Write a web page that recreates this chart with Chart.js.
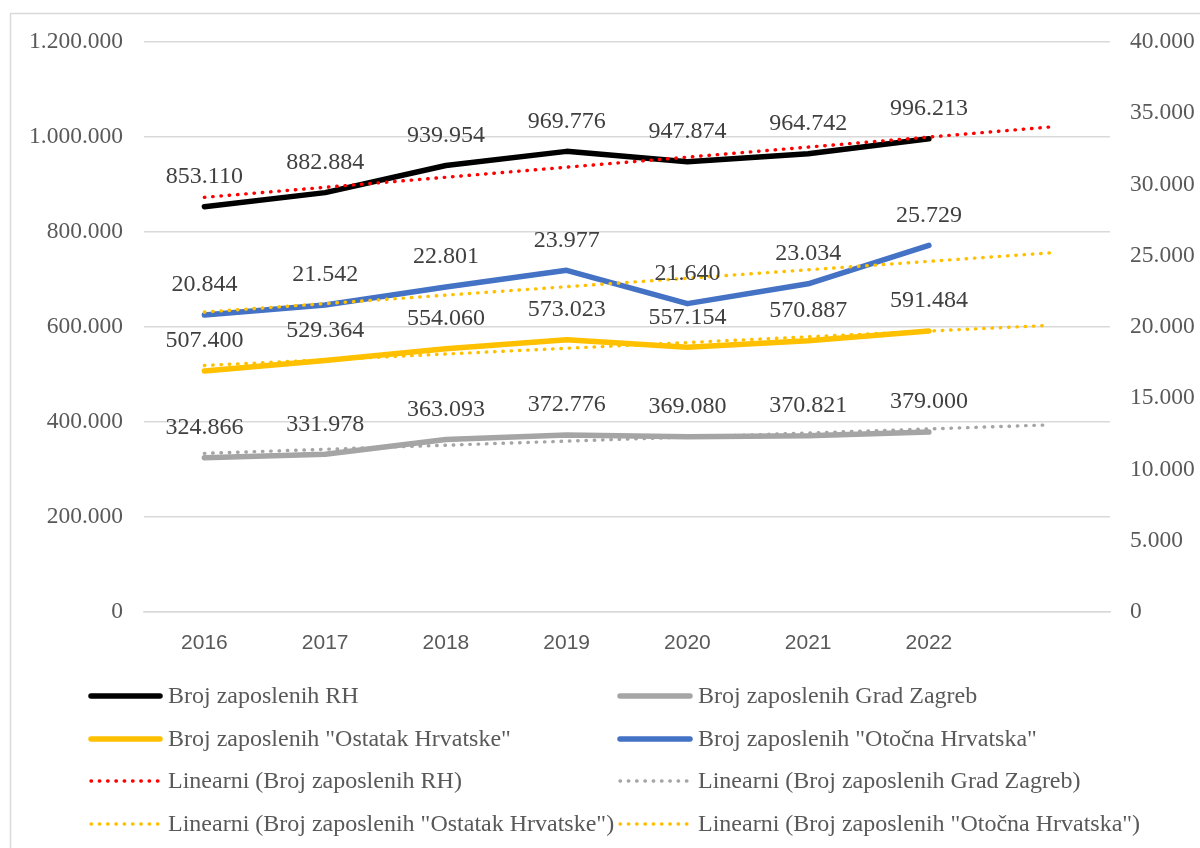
<!DOCTYPE html>
<html>
<head>
<meta charset="utf-8">
<script src="https://cdn.jsdelivr.net/npm/chart.js@4.4.0/dist/chart.umd.min.js"></script>
<style>
    html, body { margin: 0; padding: 0; background: #ffffff; }
    canvas { display: block; }
</style>
</head>
<body>
<canvas id="chart" width="1200" height="848"></canvas>
<script>
// categories (the last one is the empty forecast slot for the trend lines)
const years = ['2016', '2017', '2018', '2019', '2020', '2021', '2022', ''];

const zaposleniRH = [853110, 882884, 939954, 969776, 947874, 964742, 996213];
const zaposleniZagreb = [324866, 331978, 363093, 372776, 369080, 370821, 379000];
const zaposleniOstatak = [507400, 529364, 554060, 573023, 557154, 570887, 591484];
const zaposleniOtocna = [20844, 21542, 22801, 23977, 21640, 23034, 25729];

// trend lines at their start and end
const trendRH = [873000, null, null, null, null, null, null, 1021000];
const trendZagreb = [334000, null, null, null, null, null, null, 394000];
const trendOstatak = [519000, null, null, null, null, null, null, 603500];
const trendOtocna = [21050, null, null, null, null, null, null, 25200];

const leftTicks = [0, 200000, 400000, 600000, 800000, 1000000, 1200000];
const rightTicks = [0, 5000, 10000, 15000, 20000, 25000, 30000, 35000, 40000];

const SERIF = '"Liberation Serif", "Times New Roman", serif';
const SANS = '"Liberation Sans", Arial, sans-serif';

const fmt = (v) => String(v).replace(/\B(?=(\d{3})+(?!\d))/g, '.');

const solid = (label, data, color, axis) => ({
    label: label,
    data: data,
    yAxisID: axis,
    borderColor: color,
    backgroundColor: color,
    borderWidth: 5.5,
    borderCapStyle: 'round',
    borderJoinStyle: 'round',
    pointRadius: 0,
    tension: 0,
    order: 1,
    showValues: true
});

const dotted = (label, data, color, axis) => ({
    label: label,
    data: data,
    yAxisID: axis,
    borderColor: color,
    backgroundColor: color,
    borderWidth: 3.4,
    borderCapStyle: 'round',
    borderDash: [0.5, 7.8],
    pointRadius: 0,
    spanGaps: true,
    tension: 0,
    order: 0,
    showValues: false
});

const frame = {
    id: 'frame',
    beforeDraw(chart) {
        const ctx = chart.ctx;
        ctx.save();
        ctx.strokeStyle = '#d9d9d9';
        ctx.lineWidth = 1.5;
        ctx.strokeRect(10.5, 13.5, 1250, 900);
        ctx.restore();
    }
};

const valueLabels = {
    id: 'valueLabels',
    afterDatasetsDraw(chart) {
        const ctx = chart.ctx;
        ctx.save();
        ctx.font = '24px ' + SERIF;
        ctx.fillStyle = '#404040';
        ctx.textAlign = 'center';
        ctx.textBaseline = 'middle';
        chart.data.datasets.forEach((ds, i) => {
            if (!ds.showValues) return;
            chart.getDatasetMeta(i).data.forEach((pt, j) => {
                if (ds.data[j] == null) return;
                ctx.fillText(fmt(ds.data[j]), pt.x, pt.y - 30);
            });
        });
        ctx.restore();
    }
};

const bottomLegend = {
    id: 'bottomLegend',
    afterDraw(chart) {
        const ctx = chart.ctx;
        const rows = [696, 739, 781, 824];
        const cols = [{ x0: 91, x1: 160, tx: 168 }, { x0: 620, x1: 690, tx: 698 }];
        ctx.save();
        ctx.font = '24px ' + SERIF;
        ctx.textAlign = 'left';
        ctx.textBaseline = 'middle';
        chart.data.datasets.forEach((ds, i) => {
            const y = rows[Math.floor(i / 2)];
            const c = cols[i % 2];
            ctx.strokeStyle = ds.borderColor;
            ctx.lineWidth = ds.borderWidth;
            ctx.lineCap = 'round';
            ctx.setLineDash(ds.borderDash || []);
            ctx.beginPath();
            ctx.moveTo(c.x0, y);
            ctx.lineTo(c.x1, y);
            ctx.stroke();
            ctx.setLineDash([]);
            ctx.fillStyle = '#595959';
            ctx.fillText(ds.label, c.tx, y + 1);
        });
        ctx.restore();
    }
};

const config = {
    type: 'line',
    data: {
        labels: years,
        datasets: [
            solid('Broj zaposlenih RH', zaposleniRH, '#000000', 'yL'),
            solid('Broj zaposlenih Grad Zagreb', zaposleniZagreb, '#a5a5a5', 'yL'),
            solid('Broj zaposlenih "Ostatak Hrvatske"', zaposleniOstatak, '#ffc000', 'yL'),
            solid('Broj zaposlenih "Otočna Hrvatska"', zaposleniOtocna, '#4472c4', 'yR'),
            dotted('Linearni (Broj zaposlenih RH)', trendRH, '#ff0000', 'yL'),
            dotted('Linearni (Broj zaposlenih Grad Zagreb)', trendZagreb, '#a5a5a5', 'yL'),
            dotted('Linearni (Broj zaposlenih "Ostatak Hrvatske")', trendOstatak, '#ffc000', 'yL'),
            dotted('Linearni (Broj zaposlenih "Otočna Hrvatska")', trendOtocna, '#ffc000', 'yR')
        ]
    },
    options: {
        responsive: false,
        animation: false,
        devicePixelRatio: 1,
        layout: {
            padding: { left: 10, right: 0, top: 42, bottom: 186 }
        },
        plugins: {
            legend: { display: false },
            tooltip: { enabled: false }
        },
        scales: {
            x: {
                offset: true,
                grid: { display: false, drawTicks: false },
                border: { display: true, color: '#d9d9d9', width: 1.5 },
                ticks: {
                    color: '#595959',
                    font: { family: SANS, size: 21 },
                    padding: 19,
                    maxRotation: 0,
                    autoSkip: false
                },
                afterFit: (s) => { s.height = 50; }
            },
            yL: {
                position: 'left',
                min: 0,
                max: 1200000,
                afterBuildTicks: (s) => { s.ticks = leftTicks.map(v => ({ value: v })); },
                grid: { color: '#d9d9d9', lineWidth: 1.5, drawTicks: false },
                border: { display: false },
                ticks: {
                    color: '#595959',
                    font: { family: SERIF, size: 23.5 },
                    padding: 21,
                    callback: (v) => fmt(v)
                },
                afterFit: (s) => { s.width = 134; }
            },
            yR: {
                position: 'right',
                min: 0,
                max: 40000,
                afterBuildTicks: (s) => { s.ticks = rightTicks.map(v => ({ value: v })); },
                grid: { display: false, drawTicks: false },
                border: { display: false },
                ticks: {
                    color: '#595959',
                    font: { family: SERIF, size: 23.5 },
                    padding: 20,
                    callback: (v) => fmt(v)
                },
                afterFit: (s) => { s.width = 90; }
            }
        }
    },
    plugins: [frame, valueLabels, bottomLegend]
};

new Chart(document.getElementById('chart').getContext('2d'), config);
</script>
</body>
</html>
